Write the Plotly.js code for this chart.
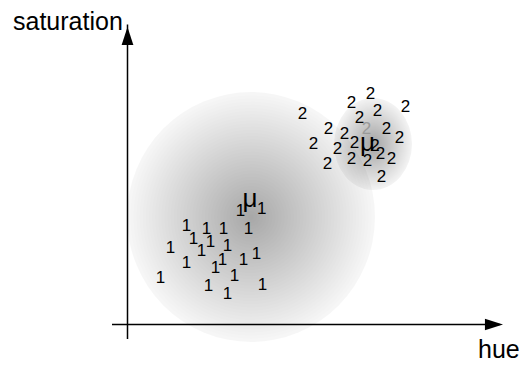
<!DOCTYPE html>
<html>
<head>
<meta charset="utf-8">
<script src="https://cdn.plot.ly/plotly-3.0.1.min.js"></script>
<style>html,body{margin:0;padding:0;background:#fff;}#chart{width:519px;height:369px;}</style>
</head>
<body>
<div id="chart"></div>
<script>
// cluster 1 points (hue, saturation)
var hue1 = [59, 79, 96, 121, 66, 83, 100, 43, 74, 95, 59, 88, 116, 129, 33, 107, 81, 100, 135, 113];
var sat1 = [98, 95, 95, 95, 85, 82, 78, 76, 73, 64, 61, 56, 64, 70, 46, 48, 38, 30, 39, 113];
// cluster 2 points
var hue2 = [243, 224, 250, 278, 175, 232, 201, 259, 217, 272, 186, 227, 210, 224, 240, 253, 264, 200, 254, 247.5];
var sat2 = [230, 221, 213, 217, 210, 206, 195, 195, 190, 186, 180, 181, 175, 165, 163, 170, 165, 160, 147, 178];
// faded point of cluster 2
var hue2f = [239];
var sat2f = [195];
// cluster means
var muHue = [122.5, 240];
var muSat = [124, 180];
var muSub = ["1", ""];
// cluster spread (gaussian clouds)
var cloudHue = [123.5, 245.5];
var cloudSat = [107.5, 180.5];
var cloudRh = [124, 39];
var cloudRs = [125, 46];
var cloudEdge = [0.035, 0.05];
var cloudCenter = [0.24, 0.26];
// axis labels
var axisNames = ["hue", "saturation"];

var FONT = "Liberation Sans, Arial, sans-serif";

var shapes = [];
var N = 40;
for (var c = 0; c < cloudHue.length; c++) {
  var aIn = 1 - Math.pow((1 - cloudCenter[c]) / (1 - cloudEdge[c]), 1 / (N - 1));
  for (var i = 0; i < N; i++) {
    var f = 1 - i / N;
    shapes.push({
      type: "circle", xref: "x", yref: "y", layer: "below",
      x0: cloudHue[c] - cloudRh[c] * f, x1: cloudHue[c] + cloudRh[c] * f,
      y0: cloudSat[c] - cloudRs[c] * f, y1: cloudSat[c] + cloudRs[c] * f,
      line: {width: 0},
      fillcolor: "rgba(0,0,0," + (i === 0 ? cloudEdge[c] : aIn).toFixed(4) + ")"
    });
  }
}

var xr = [-127.5, 391.5];
var yr = [-44.5, 324.5];

var traces = [
  {x: [-15.5, 372], y: [0, 0], mode: "lines", line: {color: "#000", width: 1.5}, hoverinfo: "skip"},
  {x: [0, 0], y: [-14.5, 300], mode: "lines", line: {color: "#000", width: 1.5}, hoverinfo: "skip"},
  {x: [375.5, 0], y: [0, 297.5], mode: "markers", marker: {symbol: "arrow", size: 19, angle: [90, 0], color: "#000", line: {width: 0}}, hoverinfo: "skip"},
  {x: hue1, y: sat1, mode: "text", text: hue1.map(function(){return "1";}), textposition: "middle center", textfont: {family: FONT, size: 17, color: "#000"}},
  {x: hue2f, y: sat2f, mode: "text", text: ["2"], textposition: "middle center", textfont: {family: FONT, size: 17, color: "#999"}},
  {x: hue2, y: sat2, mode: "text", text: hue2.map(function(){return "2";}), textposition: "middle center", textfont: {family: FONT, size: 17, color: "#000"}},
  {x: muHue, y: muSat, mode: "text", text: ["μ", "μ"], textposition: "middle center", textfont: {family: FONT, size: 26, color: "#000"}}
];

var annotations = [];
for (var m = 0; m < muHue.length; m++) {
  if (muSub[m]) {
    annotations.push({x: muHue[m], y: muSat[m], xref: "x", yref: "y", text: muSub[m], showarrow: false,
      xshift: 11, yshift: -8, font: {family: FONT, size: 17, color: "#000"}});
  }
}
annotations.push({x: 371.5, y: -24.5, xref: "x", yref: "y", text: axisNames[0], showarrow: false, font: {family: FONT, size: 25, color: "#000"}});
annotations.push({x: -59.5, y: 303.5, xref: "x", yref: "y", text: axisNames[1], showarrow: false, font: {family: FONT, size: 25, color: "#000"}});

var layout = {
  width: 519, height: 369,
  margin: {l: 0, r: 0, t: 0, b: 0, pad: 0},
  paper_bgcolor: "#fff", plot_bgcolor: "#fff",
  showlegend: false,
  xaxis: {range: xr, visible: false, fixedrange: true},
  yaxis: {range: yr, visible: false, fixedrange: true},
  shapes: shapes,
  annotations: annotations
};

Plotly.newPlot("chart", traces, layout, {displayModeBar: false, staticPlot: true});
</script>
</body>
</html>
